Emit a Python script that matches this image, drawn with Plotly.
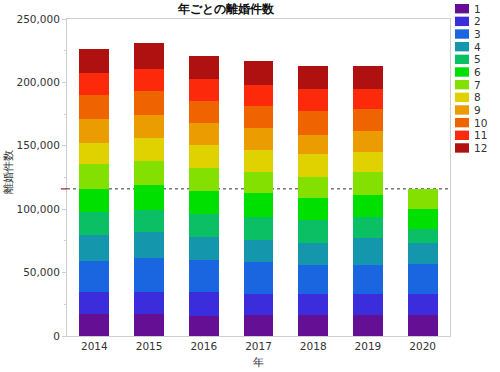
import plotly.graph_objects as go

years = ["2014", "2015", "2016", "2017", "2018", "2019", "2020"]
months = ["1", "2", "3", "4", "5", "6", "7", "8", "9", "10", "11", "12"]

# monthly divorce counts per year (rows = years, columns = months)
v2014 = [17360, 17610, 24470, 20280, 17920, 18390, 19490, 17050, 18710, 18940, 16820, 19490]
v2015 = [17360, 17610, 26360, 20520, 17360, 19970, 19190, 18150, 17910, 19180, 16900, 20520]
v2016 = [16020, 18950, 25020, 18390, 17680, 18630, 17680, 18150, 17840, 17360, 16890, 18390]
v2017 = [16580, 16570, 25020, 17600, 18390, 18310, 17210, 17130, 17360, 17130, 16810, 18400]
v2018 = [16340, 16570, 23130, 17600, 17680, 17370, 17050, 17680, 15470, 18700, 16820, 18150]
v2019 = [16580, 16570, 22890, 21550, 16570, 16890, 18630, 15790, 16570, 17130, 15790, 18150]
v2020 = [16580, 16330, 23680, 16580, 11290, 15780, 15790]

colors = ["#650f95", "#3c2ddc", "#1a66e0", "#1496ad", "#0abf64", "#00e000",
          "#84e000", "#e0d200", "#eb9c00", "#f06400", "#fc2a0a", "#af1010"]

data_by_year = [v2014, v2015, v2016, v2017, v2018, v2019, v2020]

FONT = "DejaVu Sans"
TXT = "#333333"

fig = go.Figure()
for mi, m in enumerate(months):
    ys = [row[mi] if mi < len(row) else None for row in data_by_year]
    fig.add_trace(go.Bar(x=years, y=ys, name=m, marker=dict(color=colors[mi], line=dict(width=0)),
                         showlegend=False))

ref_value = sum(v2020)

fig.add_shape(type="line", xref="paper", yref="y", x0=0, x1=1, y0=ref_value, y1=ref_value,
              line=dict(color="#333333", width=1, dash="dot"), layer="below")
fig.add_shape(type="line", xref="paper", yref="y", x0=-0.016, x1=0, y0=ref_value, y1=ref_value,
              line=dict(color="#a01818", width=1.2))

# plot area geometry in px (for manual legend placement)
L, R, T, B = 67, 450, 19, 336
W, H = R - L, B - T

def px_x(px):
    return (px - L) / W

def px_y(py):
    return (B - py) / H

for i, m in enumerate(months):
    cy = 8.7 + 12.66 * i
    fig.add_shape(type="rect", xref="paper", yref="paper",
                  x0=px_x(455), x1=px_x(469), y0=px_y(cy + 4.7), y1=px_y(cy - 4.7),
                  fillcolor=colors[i], line=dict(width=0))
    fig.add_annotation(text=m, xref="paper", yref="paper", x=px_x(471.5), y=px_y(cy),
                       xanchor="left", yanchor="middle", showarrow=False,
                       font=dict(family=FONT, size=10.5, color=TXT))

fig.add_annotation(text="離婚件数", xref="paper", yref="paper", x=px_x(7.5), y=px_y(172),
                   textangle=-90, showarrow=False, xanchor="center", yanchor="middle",
                   font=dict(family=FONT, size=11, color=TXT))
fig.add_annotation(text="年", xref="paper", yref="paper", x=px_x(258), y=px_y(361.5),
                   showarrow=False, xanchor="center", yanchor="middle",
                   font=dict(family=FONT, size=10.5, color=TXT))

fig.update_layout(
    width=500, height=372,
    margin=dict(l=L, r=500 - R, t=T, b=372 - B),
    barmode="stack", bargap=0.455,
    plot_bgcolor="white", paper_bgcolor="white",
    font=dict(family=FONT, size=10.5, color=TXT),
    title=dict(text="<b>年ごとの離婚件数</b>", x=225.8 / 500, xanchor="center",
               y=1 - 8.5 / 372, yanchor="middle", font=dict(family=FONT, size=12, color="#111111")),
    xaxis=dict(type="category", showline=True, linecolor="#cfcfcf", linewidth=1, mirror=True,
               ticks="", showgrid=False, tickfont=dict(size=10.5, color=TXT)),
    yaxis=dict(range=[0, 250000], dtick=50000, tickformat=",", showline=True, linecolor="#cfcfcf",
               linewidth=1, mirror=True, ticks="outside", ticklen=4, tickcolor="#cfcfcf",
               showgrid=False, zeroline=False, tickfont=dict(size=10.5, color=TXT),
               minor=dict(dtick=25000, ticks="outside", ticklen=2, tickcolor="#cfcfcf", showgrid=False)),
)

fig.write_html("out.html", config={"displayModeBar": False},
               post_script="document.body.style.margin='0';document.body.style.overflow='hidden';")
